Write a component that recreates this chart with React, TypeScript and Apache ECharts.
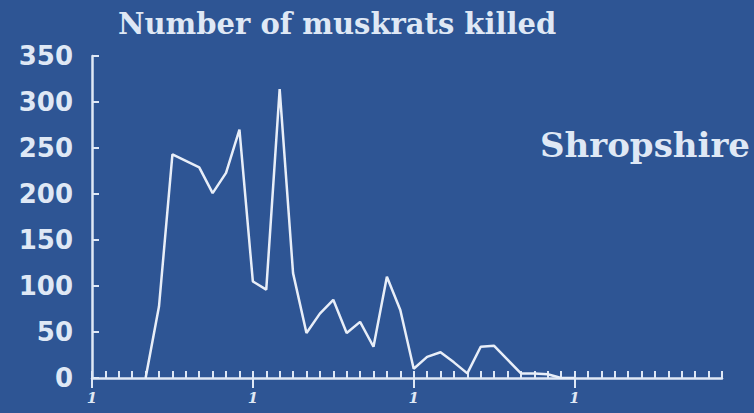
import React, { useEffect, useRef } from "react";
import * as echarts from "echarts";

// x positions (tick index along the axis) and number of muskrats killed
const periods = [4, 5, 6, 7, 8, 9, 10, 11, 12, 13, 14, 15, 16, 17, 18, 19, 20, 21, 22, 23, 24, 25, 26, 27, 28, 29, 30, 31, 32, 33, 34, 35, 36];
const killed = [0, 78, 243, 236, 229, 201, 223, 270, 105, 96, 314, 114, 49, 70, 85, 49, 61, 34, 110, 74, 10, 23, 28, 17, 5, 34, 35, 20, 5, 5, 4, 0, 0];
const majorTicks = [0, 12, 24, 36];
const majorTickLabel = "1";
const yTicks = [0, 50, 100, 150, 200, 250, 300, 350];
const titleText = "Number of muskrats killed";
const regionText = "Shropshire";

const BG = "#2e5594";
const FG = "#dfe8f5";

export default function App() {
  const ref = useRef<HTMLDivElement>(null);
  useEffect(() => {
    if (!ref.current) return;
    const chart = echarts.init(ref.current, undefined, { renderer: "svg" });
    const option: any = {
      animation: false,
      backgroundColor: BG,
      title: {
        text: titleText,
        left: 118,
        top: 9,
        padding: 0,
        textStyle: {
          color: FG,
          fontFamily: "DejaVu Serif",
          fontWeight: "bold",
          fontSize: 29,
        },
      },
      graphic: [
        {
          type: "text",
          left: 540,
          top: 128,
          style: {
            text: regionText,
            fill: FG,
            font: "bold 34px 'DejaVu Serif'",
          },
        },
      ],
      grid: { left: 92, right: 32, top: 56, bottom: 35, containLabel: false },
      xAxis: [
        {
          type: "value",
          min: 0,
          max: 47,
          interval: 1,
          axisLine: { show: true, lineStyle: { color: FG, width: 2.5 } },
          axisTick: { show: true, inside: true, length: 7, lineStyle: { color: FG, width: 2 } },
          axisLabel: { show: false },
          splitLine: { show: false },
        },
        {
          type: "value",
          min: 0,
          max: 47,
          position: "bottom",
          axisLine: { show: false },
          axisTick: {
            show: true,
            inside: false,
            length: 10,
            customValues: majorTicks,
            lineStyle: { color: FG, width: 2 },
          },
          axisLabel: {
            show: true,
            customValues: majorTicks,
            formatter: () => majorTickLabel,
            color: FG,
            fontFamily: "DejaVu Serif",
            fontStyle: "italic",
            fontWeight: "bold",
            fontSize: 15,
            margin: 12,
          },
          splitLine: { show: false },
        },
      ],
      yAxis: {
        type: "value",
        min: 0,
        max: 350,
        interval: 50,
        axisLine: { show: true, lineStyle: { color: FG, width: 2.5 } },
        axisTick: { show: true, inside: true, length: 7, lineStyle: { color: FG, width: 2 } },
        axisLabel: {
          color: FG,
          fontFamily: "DejaVu Sans",
          fontWeight: "bold",
          fontSize: 26,
          margin: 19,
          customValues: yTicks,
        },
        splitLine: { show: false },
      },
      series: [
        {
          type: "line",
          xAxisIndex: 0,
          data: periods.map((p, i) => [p, killed[i]]),
          symbol: "none",
          lineStyle: { color: "#e8eef8", width: 2.5 },
        },
      ],
    };
    chart.setOption(option);
    return () => chart.dispose();
  }, []);
  return (
    <div
      ref={ref}
      style={{ position: "fixed", left: 0, top: 0, width: 754, height: 413 }}
    />
  );
}
